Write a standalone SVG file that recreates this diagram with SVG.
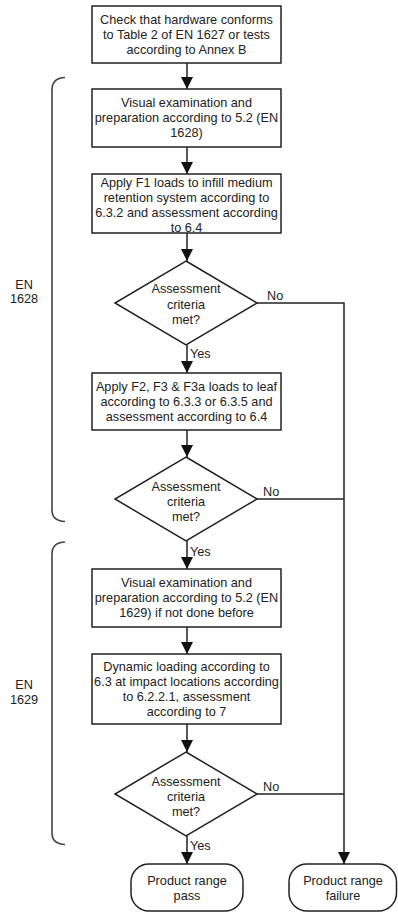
<svg xmlns="http://www.w3.org/2000/svg" width="398" height="913" viewBox="0 0 398 913">
  <defs>
    <style>
      .box { fill: #fff; stroke: #222; stroke-width: 1.5; }
      .line { fill: none; stroke: #222; stroke-width: 1.5; }
      .brace { fill: none; stroke: #444; stroke-width: 1.6; }
      text { font-family: "Liberation Sans", Arial, sans-serif; font-size: 12.7px; fill: #222; text-anchor: middle; dominant-baseline: central; }
      .lbl { text-anchor: start; }
    </style>
    <marker id="arrow" viewBox="0 0 12 12" refX="12" refY="6" markerWidth="12" markerHeight="12" markerUnits="userSpaceOnUse" orient="auto">
      <path d="M0,0 L12,6 L0,12 Z" fill="#111"/>
    </marker>
  </defs>

  <rect width="398" height="913" fill="#fff"/>

  <!-- section braces and labels -->
  <g id="section-en1628">
    <path class="brace" d="M65,77.5 Q52,78 52,90 L52,510 Q52,521 65,521.5"/>
    <text x="24" y="285">EN</text>
    <text x="24" y="299">1628</text>
  </g>
  <g id="section-en1629">
    <path class="brace" d="M65,542 Q52,542.5 52,554 L52,833 Q52,844 65,844.5"/>
    <text x="24" y="685">EN</text>
    <text x="24" y="700">1629</text>
  </g>

  <!-- connectors -->
  <g id="connectors">
    <line class="line" x1="187" y1="63" x2="187" y2="89" marker-end="url(#arrow)"/>
    <line class="line" x1="187" y1="147" x2="187" y2="174" marker-end="url(#arrow)"/>
    <line class="line" x1="187" y1="233" x2="187" y2="261" marker-end="url(#arrow)"/>
    <line class="line" x1="187" y1="345" x2="187" y2="373" marker-end="url(#arrow)"/>
    <line class="line" x1="187" y1="430" x2="187" y2="457" marker-end="url(#arrow)"/>
    <line class="line" x1="187" y1="541" x2="187" y2="569" marker-end="url(#arrow)"/>
    <line class="line" x1="187" y1="627" x2="187" y2="654" marker-end="url(#arrow)"/>
    <line class="line" x1="187" y1="724" x2="187" y2="752" marker-end="url(#arrow)"/>
    <line class="line" x1="187" y1="836" x2="187" y2="864" marker-end="url(#arrow)"/>
    <polyline class="line" points="257,303 344,303 344,864" marker-end="url(#arrow)"/>
    <line class="line" x1="257" y1="499" x2="344" y2="499"/>
    <line class="line" x1="257" y1="794" x2="344" y2="794"/>
    <text class="lbl" x="267" y="296">No</text>
    <text class="lbl" x="263" y="492">No</text>
    <text class="lbl" x="263" y="787">No</text>
    <text class="lbl" x="190" y="354">Yes</text>
    <text class="lbl" x="190" y="552">Yes</text>
    <text class="lbl" x="190" y="846">Yes</text>
  </g>

  <g id="check-hardware">
    <rect class="box" x="92" y="6" width="189" height="57"/>
    <text x="186.5" y="20">Check that hardware conforms</text>
    <text x="186.5" y="35">to Table 2 of EN 1627 or tests</text>
    <text x="186.5" y="50">according to Annex B</text>
  </g>

  <g id="visual-1628">
    <rect class="box" x="92" y="89" width="189" height="58"/>
    <text x="186.5" y="103">Visual examination and</text>
    <text x="186.5" y="118">preparation according to 5.2 (EN</text>
    <text x="186.5" y="133">1628)</text>
  </g>

  <g id="apply-f1">
    <rect class="box" x="92" y="174" width="189" height="59"/>
    <text x="186.5" y="183">Apply F1 loads to infill medium</text>
    <text x="186.5" y="198">retention system according to</text>
    <text x="186.5" y="213">6.3.2 and assessment according</text>
    <text x="186.5" y="228">to 6.4</text>
  </g>

  <g id="decision-1">
    <polygon class="box" points="186,261 257,303 186,345 115,303"/>
    <text x="186" y="289">Assessment</text>
    <text x="186" y="305">criteria</text>
    <text x="186" y="320">met?</text>
  </g>

  <g id="apply-f2-f3">
    <rect class="box" x="92" y="373" width="189" height="57"/>
    <text x="186.5" y="387">Apply F2, F3 &amp; F3a loads to leaf</text>
    <text x="186.5" y="402">according to 6.3.3 or 6.3.5 and</text>
    <text x="186.5" y="417">assessment according to 6.4</text>
  </g>

  <g id="decision-2">
    <polygon class="box" points="186,457 257,499 186,541 115,499"/>
    <text x="186" y="487">Assessment</text>
    <text x="186" y="502">criteria</text>
    <text x="186" y="517">met?</text>
  </g>

  <g id="visual-1629">
    <rect class="box" x="92" y="569" width="189" height="58"/>
    <text x="186.5" y="583">Visual examination and</text>
    <text x="186.5" y="598">preparation according to 5.2 (EN</text>
    <text x="186.5" y="613">1629) if not done before</text>
  </g>

  <g id="dynamic-loading">
    <rect class="box" x="92" y="654" width="189" height="70"/>
    <text x="186.5" y="667">Dynamic loading according to</text>
    <text x="186.5" y="682">6.3 at impact locations according</text>
    <text x="186.5" y="697">to 6.2.2.1, assessment</text>
    <text x="186.5" y="712">according to 7</text>
  </g>

  <g id="decision-3">
    <polygon class="box" points="186,752 257,794 186,836 115,794"/>
    <text x="186" y="782">Assessment</text>
    <text x="186" y="797">criteria</text>
    <text x="186" y="812">met?</text>
  </g>

  <g id="pass">
    <rect class="box" x="131" y="864" width="112" height="47" rx="18" ry="18"/>
    <text x="187" y="881">Product range</text>
    <text x="187" y="896">pass</text>
  </g>

  <g id="failure">
    <rect class="box" x="289" y="864" width="107.5" height="47" rx="18" ry="18"/>
    <text x="343" y="881">Product range</text>
    <text x="343" y="896">failure</text>
  </g>
</svg>
